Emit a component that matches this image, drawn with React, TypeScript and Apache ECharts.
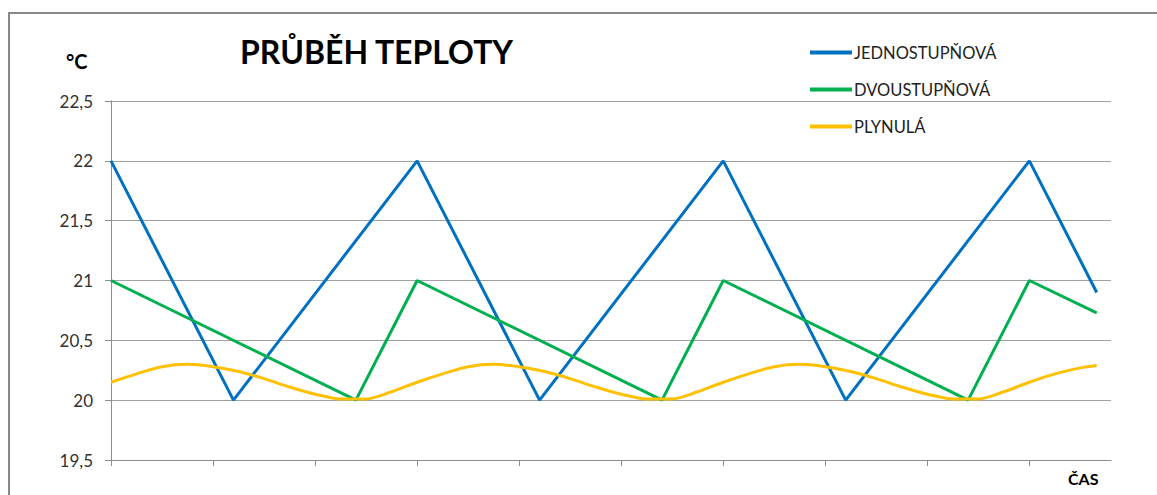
import React, { useEffect, useRef } from "react";
import * as echarts from "echarts";

const xTicks = [0, 1, 2, 3, 4, 5, 6, 7, 8, 9];
const blueX = [0, 1.2, 3, 4.2, 6, 7.2, 9, 9.66];
const blueY = [22, 20, 22, 20, 22, 20, 22, 20.9];
const greenX = [0, 2.4, 3, 5.4, 6, 8.4, 9, 9.66];
const greenY = [21, 20, 21, 20, 21, 20, 21, 20.73];
const yellowX = [
  0, 0.25, 0.5, 0.75, 1, 1.25, 1.5, 1.75, 2, 2.25, 2.5, 2.75,
  3, 3.25, 3.5, 3.75, 4, 4.25, 4.5, 4.75, 5, 5.25, 5.5, 5.75,
  6, 6.25, 6.5, 6.75, 7, 7.25, 7.5, 7.75, 8, 8.25, 8.5, 8.75,
  9, 9.25, 9.5, 9.66,
];
const yellowY = [
  20.15, 20.22, 20.28, 20.3, 20.28, 20.24, 20.18, 20.11, 20.05, 20.01, 20.01, 20.07,
  20.15, 20.22, 20.28, 20.3, 20.28, 20.24, 20.18, 20.11, 20.05, 20.01, 20.01, 20.07,
  20.15, 20.22, 20.28, 20.3, 20.28, 20.24, 20.18, 20.11, 20.05, 20.01, 20.01, 20.07,
  20.15, 20.22, 20.27, 20.29,
];
const seriesNames = ["JEDNOSTUPŇOVÁ", "DVOUSTUPŇOVÁ", "PLYNULÁ"];
const colors = ["#0070C0", "#00B050", "#FFC000"];

const FONT = "Lato, 'Open Sans', sans-serif";

function pairs(xs: number[], ys: number[]) {
  return xs.map((x, i) => [x, ys[i]]);
}

export default function App() {
  const ref = useRef<HTMLDivElement>(null);
  useEffect(() => {
    document.body.style.margin = "0";
    const chart = echarts.init(ref.current!, null, { renderer: "svg" });
    const lineSeries = (i: number, data: number[][], smooth: boolean | number) => ({
      name: seriesNames[i],
      type: "line",
      data,
      smooth,
      showSymbol: false,
      symbol: "none",
      lineStyle: { color: colors[i], width: 3 },
      itemStyle: { color: colors[i] },
    });
    chart.setOption({
      animation: false,
      backgroundColor: "#ffffff",
      grid: { left: 111, top: 101, right: 46, bottom: 35, containLabel: false },
      xAxis: {
        type: "value",
        min: 0,
        max: 9.8,
        interval: 1,
        axisLine: { show: true, lineStyle: { color: "#8c8c8c", width: 1 } },
        axisTick: { show: true, length: 6, customValues: xTicks, lineStyle: { color: "#8c8c8c" } },
        axisLabel: { show: false },
        splitLine: { show: false },
      },
      yAxis: {
        type: "value",
        min: 19.5,
        max: 22.5,
        interval: 0.5,
        axisLine: { show: true, lineStyle: { color: "#8c8c8c", width: 1 } },
        axisTick: { show: true, length: 6, lineStyle: { color: "#8c8c8c" } },
        axisLabel: {
          color: "#333",
          fontFamily: FONT,
          fontSize: 17,
          margin: 18,
          formatter: (v: number) => String(v).replace(".", ","),
        },
        splitLine: { show: true, lineStyle: { color: "#a0a0a0", width: 1 } },
      },
      legend: {
        orient: "vertical",
        left: 805,
        top: 39,
        itemWidth: 42,
        itemHeight: 4,
        itemGap: 20,
        icon: "rect",
        textStyle: { fontFamily: FONT, fontSize: 16.5, color: "#222", lineHeight: 17, padding: [0, 0, 0, -3] },
        data: seriesNames,
      },
      graphic: [
        { type: "line", shape: { x1: 8, y1: 13, x2: 1157, y2: 13 }, style: { stroke: "#888", lineWidth: 2 } },
        { type: "line", shape: { x1: 9, y1: 13, x2: 9, y2: 495 }, style: { stroke: "#888", lineWidth: 2 } },
        {
          type: "text",
          left: 240,
          top: 35,
          style: { text: "PRŮBĚH TEPLOTY", font: `bold 32px ${FONT}`, fill: "#000" },
        },
        {
          type: "text",
          left: 66,
          top: 51,
          style: { text: "°C", font: `bold 20px ${FONT}`, fill: "#000" },
        },
        {
          type: "text",
          left: 1068,
          top: 470,
          style: { text: "ČAS", font: `bold 16px ${FONT}`, fill: "#000" },
        },
      ],
      series: [
        lineSeries(0, pairs(blueX, blueY), false),
        lineSeries(1, pairs(greenX, greenY), false),
        lineSeries(2, pairs(yellowX, yellowY), 0.3),
      ],
    });
    return () => chart.dispose();
  }, []);
  return <div ref={ref} style={{ width: 1157, height: 495 }} />;
}
